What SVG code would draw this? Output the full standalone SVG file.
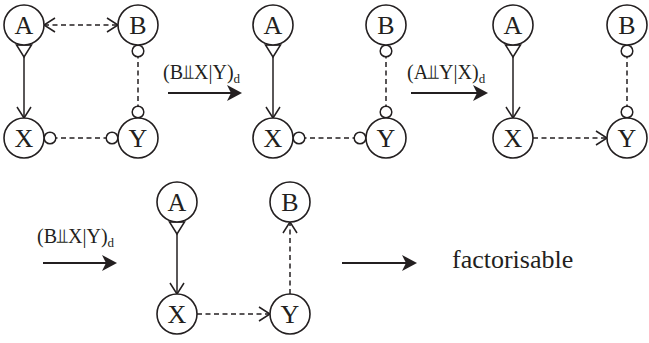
<svg xmlns="http://www.w3.org/2000/svg" width="649" height="343" viewBox="0 0 649 343">
<style>
.node circle{fill:#fff;stroke:#231f20;stroke-width:1.6}
.node text{font-family:"Liberation Serif","DejaVu Serif",serif;font-size:26px;fill:#231f20;text-anchor:middle}
.e{fill:none;stroke:#231f20;stroke-width:1.5}
.d{stroke-dasharray:5,3.5}
.t{stroke:#231f20;stroke-width:2;fill:none}
.lbl{font-family:"Liberation Serif","DejaVu Serif","DejaVu Sans",serif;font-size:20px;fill:#231f20}
.big{font-family:"Liberation Serif","DejaVu Serif",serif;font-size:26px;fill:#231f20}
</style>
<defs>
<marker id="vee" markerUnits="userSpaceOnUse" markerWidth="1" markerHeight="1" orient="auto-start-reverse" overflow="visible"><path d="M-11,-7 L0,0 L-11,7" fill="none" stroke="#231f20" stroke-width="1.5"/></marker>
<marker id="circ" markerUnits="userSpaceOnUse" markerWidth="1" markerHeight="1" orient="auto-start-reverse" overflow="visible"><circle cx="-6" cy="0" r="5.8" fill="#fff" stroke="#231f20" stroke-width="1.5"/></marker>
<marker id="tri" markerUnits="userSpaceOnUse" markerWidth="1" markerHeight="1" orient="auto-start-reverse" overflow="visible"><path d="M0,-7.5 L0,7.5 L-12,0 Z" fill="#fff" stroke="#231f20" stroke-width="1.5" stroke-linejoin="miter"/></marker>
<marker id="head" markerUnits="userSpaceOnUse" markerWidth="1" markerHeight="1" orient="auto" overflow="visible"><path d="M8,0 L-7,-8 L-3,0 L-7,8 Z" fill="#231f20"/></marker>
</defs>

<g id="connectors">
<path class="e d" d="M44,25 H118" marker-start="url(#vee)" marker-end="url(#vee)"/>
<path class="e" d="M24,45 V118" marker-start="url(#tri)" marker-end="url(#vee)"/>
<path class="e d" d="M138,45 V118" marker-start="url(#circ)" marker-end="url(#circ)"/>
<path class="e d" d="M44,138 H118" marker-start="url(#circ)" marker-end="url(#circ)"/>

<path class="e" d="M273,45 V118" marker-start="url(#tri)" marker-end="url(#vee)"/>
<path class="e d" d="M386,45 V118" marker-start="url(#circ)" marker-end="url(#circ)"/>
<path class="e d" d="M293,138 H366" marker-start="url(#circ)" marker-end="url(#circ)"/>

<path class="e" d="M513,45 V118" marker-start="url(#tri)" marker-end="url(#vee)"/>
<path class="e d" d="M627,45 V118" marker-start="url(#circ)" marker-end="url(#circ)"/>
<path class="e d" d="M533,138 H607" marker-end="url(#vee)"/>

<path class="e" d="M177,222 V294" marker-start="url(#tri)" marker-end="url(#vee)"/>
<path class="e d" d="M197,314 H270" marker-end="url(#vee)"/>
<path class="e d" d="M290,294 V222" marker-end="url(#vee)"/>

<path class="t" d="M168,93 H234" marker-end="url(#head)"/>
<path class="t" d="M411,93 H480" marker-end="url(#head)"/>
<path class="t" d="M43,263 H109" marker-end="url(#head)"/>
<path class="t" d="M342,263 H409" marker-end="url(#head)"/>
</g>

<g id="g1-A" class="node"><circle cx="24" cy="25" r="20"/><text x="24" y="34">A</text></g>
<g id="g1-B" class="node"><circle cx="138" cy="25" r="20"/><text x="138" y="34">B</text></g>
<g id="g1-X" class="node"><circle cx="24" cy="138" r="20"/><text x="24" y="147">X</text></g>
<g id="g1-Y" class="node"><circle cx="138" cy="138" r="20"/><text x="138" y="147">Y</text></g>

<g id="g2-A" class="node"><circle cx="273" cy="25" r="20"/><text x="273" y="34">A</text></g>
<g id="g2-B" class="node"><circle cx="386" cy="25" r="20"/><text x="386" y="34">B</text></g>
<g id="g2-X" class="node"><circle cx="273" cy="138" r="20"/><text x="273" y="147">X</text></g>
<g id="g2-Y" class="node"><circle cx="386" cy="138" r="20"/><text x="386" y="147">Y</text></g>

<g id="g3-A" class="node"><circle cx="513" cy="25" r="20"/><text x="513" y="34">A</text></g>
<g id="g3-B" class="node"><circle cx="627" cy="25" r="20"/><text x="627" y="34">B</text></g>
<g id="g3-X" class="node"><circle cx="513" cy="138" r="20"/><text x="513" y="147">X</text></g>
<g id="g3-Y" class="node"><circle cx="627" cy="138" r="20"/><text x="627" y="147">Y</text></g>

<g id="g4-A" class="node"><circle cx="177" cy="202" r="20"/><text x="177" y="211">A</text></g>
<g id="g4-B" class="node"><circle cx="290" cy="202" r="20"/><text x="290" y="211">B</text></g>
<g id="g4-X" class="node"><circle cx="177" cy="314" r="20"/><text x="177" y="323">X</text></g>
<g id="g4-Y" class="node"><circle cx="290" cy="314" r="20"/><text x="290" y="323">Y</text></g>

<g id="labels">
<text class="lbl" x="163" y="79">(B⫫X|Y)<tspan font-size="13" dy="4">d</tspan></text>
<text class="lbl" x="407" y="79">(A⫫Y|X)<tspan font-size="13" dy="4">d</tspan></text>
<text class="lbl" x="37" y="243">(B⫫X|Y)<tspan font-size="13" dy="4">d</tspan></text>
<text class="big" x="452" y="268">factorisable</text>
</g>
</svg>
